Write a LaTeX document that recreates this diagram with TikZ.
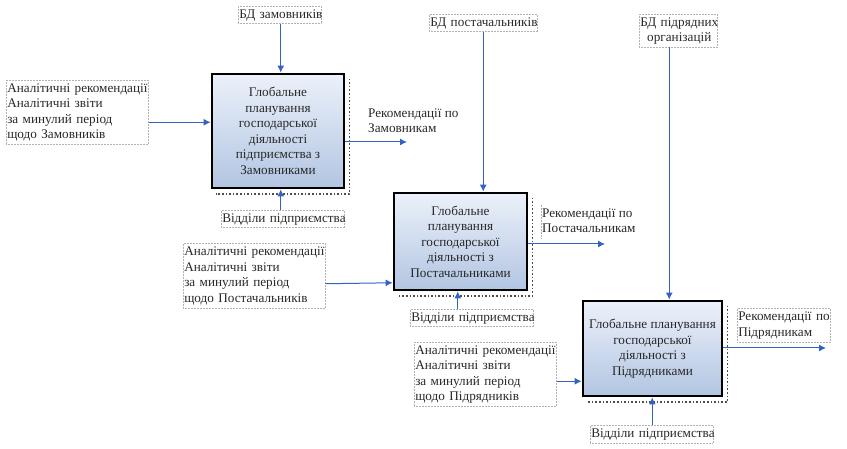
\documentclass[tikz,border=0pt]{standalone}
\usepackage{fontspec}
\setmainfont{Liberation Serif}
\usetikzlibrary{arrows.meta,calc}
\definecolor{arrblue}{RGB}{52,98,196}
\definecolor{boxtop}{RGB}{236,241,250}
\definecolor{boxbot}{RGB}{178,197,226}
\definecolor{txt}{RGB}{40,40,40}
\newcommand{\fsz}{\fontsize{13.2}{15.5}\selectfont}
\newcommand{\tl}[1]{\begin{tabular}{@{}l@{}}#1\end{tabular}}
\newcommand{\tc}[1]{\begin{tabular}{@{}c@{}}#1\end{tabular}}
\tikzset{
  lbl/.style={draw=gray!60, densely dotted, line width=0.5pt, inner sep=1pt, font=\fsz, text=txt, align=left, anchor=north west},
  nolbl/.style={inner sep=1pt, font=\fsz, text=txt, align=left, anchor=north west},
  func/.style={draw=black, line width=2.8pt, top color=boxtop, bottom color=boxbot, font=\fsz, text=txt, align=center, inner sep=2pt},
  shad/.style={draw=black!70, dotted, line width=1.6pt},
  arr/.style={draw=arrblue, line width=1pt, -{Latex[length=7pt,width=7pt]}}
}
\begin{document}
\begin{tikzpicture}[x=1pt,y=-1pt]
\useasboundingbox (0,0) rectangle (847,449);
% ---------- function boxes ----------
\node[func, minimum width=132pt, minimum height=114pt] (b1) at (278,131)
  {Глобальне\\планування\\господарської\\діяльності\\підприємства з\\Замовниками};
\node[func, minimum width=133pt, minimum height=97pt] (b2) at (460.5,241.5)
  {Глобальне\\планування\\господарської\\діяльності з\\Постачальниками};
\node[func, minimum width=139pt, minimum height=95pt] (b3) at (652.5,348.5)
  {Глобальне планування\\господарської\\діяльності з\\Підрядниками};
% shadows
\foreach \b in {b1,b2,b3}{
  \draw[shad] ([shift={(4pt,-6pt)}]\b.north east) |- ([shift={(5pt,-4.5pt)}]\b.south west);
}
% ---------- labels ----------
\node[lbl, text width=81pt, minimum height=17pt] (c1) at (238,6) {\tl{БД замовників}};
\node[lbl, text width=106pt, minimum height=17pt] (c2) at (429,14) {\tl{БД постачальників}};
\node[lbl, text width=76pt, minimum height=32pt, align=center] (c3) at (639,14) {\tc{БД підрядних\\організацій}};

\node[lbl, text width=140pt, minimum height=64pt] (i1) at (6,80)
  {\tl{Аналітичні рекомендації\\Аналітичні звіти\\за минулий період\\щодо Замовників}};
\node[lbl, text width=140pt, minimum height=65pt] (i2) at (183,243)
  {\tl{Аналітичні рекомендації\\Аналітичні звіти\\за минулий період\\щодо Постачальників}};
\node[lbl, text width=140pt, minimum height=62pt] (i3) at (414,342)
  {\tl{Аналітичні рекомендації\\Аналітичні звіти\\за минулий період\\щодо Підрядників}};

\node[lbl, text width=121pt, minimum height=15pt] (m1) at (221,210) {\tl{Відділи підприємства}};
\node[lbl, text width=121pt, minimum height=15pt] (m2) at (410,309) {\tl{Відділи підприємства}};
\node[lbl, text width=121pt, minimum height=17pt] (m3) at (590,425) {\tl{Відділи підприємства}};

\node[nolbl] (r1) at (367,105) {\tl{Рекомендації по\\Замовникам}};
\node[nolbl] (r2) at (541,205) {\tl{Рекомендації по\\Постачальникам}};
\node[lbl, text width=91pt, minimum height=34pt] (r3) at (737,308) {\tl{Рекомендації по\\Підрядникам}};
\draw[draw=gray!60, densely dotted, line width=0.5pt] (r2.north west) -- (r2.south west);

% ---------- output end points ----------
\coordinate (o1) at (407,142);
\coordinate (o2) at (605,244);
\coordinate (o3) at (826,348);

% ---------- connectors ----------
% controls
\draw[arr] ([xshift=1pt]c1.south) -- ([xshift=1pt]c1.south |- b1.north);
\draw[arr] (c2.south) -- (c2.south |- b2.north);
\draw[arr] ([xshift=-9pt]c3.south) -- ([xshift=-9pt]c3.south |- b3.north);
% inputs
\draw[arr] ([yshift=-10pt]i1.east) -- ([yshift=-10pt]i1.east -| b1.west);
\draw[arr] ([yshift=-8pt]i2.east) -- ([yshift=-7pt]i2.east -| b2.west);
\draw[arr] ([yshift=-7pt]i3.east) -- ([yshift=-7pt]i3.east -| b3.west);
% mechanisms
\draw[arr] ([xshift=-2pt]m1.north) -- ([xshift=-2pt]m1.north |- b1.south);
\draw[arr] ([xshift=-14pt]m2.north) -- ([xshift=-14pt]m2.north |- b2.south);
\draw[arr] ([xshift=0.5pt]m3.north) -- ([xshift=0.5pt]m3.north |- b3.south);
% outputs
\draw[arr] (b1.east |- o1) -- (o1);
\draw[arr] (b2.east |- o2) -- (o2);
\draw[arr] (b3.east |- o3) -- (o3);
\end{tikzpicture}
\end{document}
